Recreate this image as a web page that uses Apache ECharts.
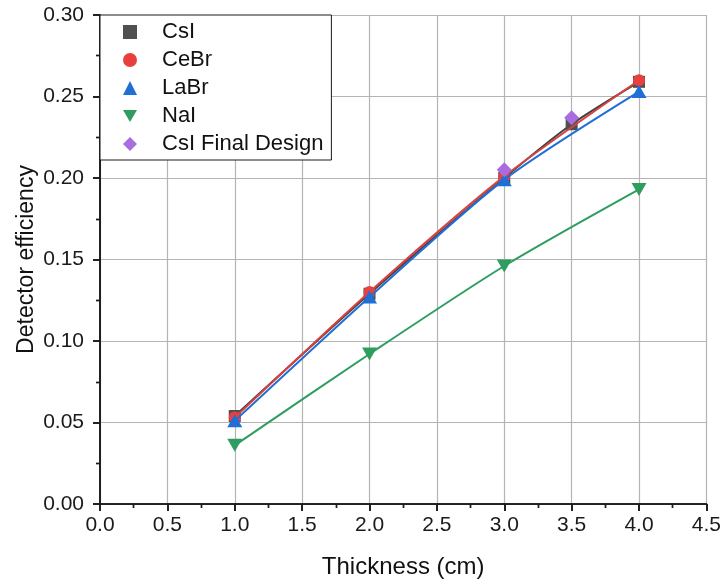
<!DOCTYPE html>
<html>
<head>
<meta charset="utf-8">
<script src="https://cdn.jsdelivr.net/npm/echarts@6/dist/echarts.min.js"></script>
<style>
  html, body { margin: 0; padding: 0; background: #fff; }
  #chart { width: 724px; height: 584px; }
</style>
</head>
<body>
<div id="chart"></div>
<script>
// Detector efficiency versus crystal thickness for several scintillators
const thickness = [1.0, 2.0, 3.0, 4.0];
const thicknessCsI = [1.0, 2.0, 3.0, 3.5, 4.0];
const thicknessFinal = [3.0, 3.5];

const effCsI = [0.054, 0.129, 0.200, 0.233, 0.259];
const effCeBr = [0.053, 0.130, 0.201, 0.260];
const effLaBr = [0.051, 0.127, 0.199, 0.253];
const effNaI = [0.036, 0.092, 0.146, 0.193];
const effFinal = [0.205, 0.237];

const xTicks = [0, 0.5, 1.0, 1.5, 2.0, 2.5, 3.0, 3.5, 4.0, 4.5];
const yTicks = [0, 0.05, 0.10, 0.15, 0.20, 0.25, 0.30];

const FONT = '"Liberation Sans", Arial, sans-serif';
const INV_TRIANGLE = 'path://M0,0 L10,0 L5,8.66 Z';

const pairs = (xs, ys) => xs.map((x, i) => [x, ys[i]]);

const chart = echarts.init(document.getElementById('chart'));

const axisLine = { show: true, lineStyle: { color: '#1a1a1a', width: 1.6 } };
const majorTick = inside => ({ show: true, inside: inside, length: 7, lineStyle: { color: '#1a1a1a', width: 1.6 } });
const minorTick = { show: true, splitNumber: 2, length: 4, lineStyle: { color: '#1a1a1a', width: 1.4 } };
const gridLine = { show: true, lineStyle: { color: '#b4b4b4', width: 1.2 } };

chart.setOption({
  animation: false,
  backgroundColor: '#ffffff',
  textStyle: { fontFamily: FONT },
  grid: { left: 100, right: 17, top: 15, bottom: 79 },
  legend: {
    left: 100,
    top: 15,
    orient: 'vertical',
    backgroundColor: '#ffffff',
    borderColor: '#1a1a1a',
    borderWidth: 1,
    padding: [6, 8, 5, 23],
    itemWidth: 14,
    itemHeight: 14,
    itemGap: 6,
    textStyle: { fontFamily: FONT, fontSize: 22, color: '#111111', lineHeight: 22, padding: [0, 0, 0, 20] },
    data: [
      { name: 'CsI', icon: 'rect', itemStyle: { color: '#505050' } },
      { name: 'CeBr', icon: 'circle' },
      { name: 'LaBr', icon: 'triangle' },
      { name: 'NaI', icon: INV_TRIANGLE },
      { name: 'CsI Final Design', icon: 'diamond' }
    ]
  },
  xAxis: [
    {
      type: 'value',
      min: 0, max: 4.5, interval: 0.5,
      name: 'Thickness (cm)',
      nameLocation: 'middle',
      nameGap: 51,
      nameMoveOverlap: false,
      nameTextStyle: { fontFamily: FONT, fontSize: 24, color: '#111111' },
      axisLine: axisLine,
      axisTick: majorTick(false),
      minorTick: minorTick,
      axisLabel: {
        fontFamily: FONT, fontSize: 21, color: '#1a1a1a', margin: 11,
        formatter: v => xTicks.includes(+v.toFixed(2)) ? v.toFixed(1) : ''
      },
      splitLine: gridLine
    },
    {
      type: 'value', position: 'top',
      min: 0, max: 4.5, interval: 0.5,
      axisLine: axisLine,
      axisTick: majorTick(true),
      minorTick: minorTick,
      axisLabel: { show: false },
      splitLine: { show: false }
    }
  ],
  yAxis: [
    {
      type: 'value',
      min: 0, max: 0.30, interval: 0.05,
      name: 'Detector efficiency',
      nameLocation: 'middle',
      nameGap: 62,
      nameMoveOverlap: false,
      nameTextStyle: { fontFamily: FONT, fontSize: 23, color: '#111111' },
      axisLine: axisLine,
      axisTick: majorTick(false),
      minorTick: minorTick,
      axisLabel: {
        fontFamily: FONT, fontSize: 21, color: '#1a1a1a', margin: 16,
        formatter: v => yTicks.includes(+v.toFixed(2)) ? v.toFixed(2) : ''
      },
      splitLine: gridLine
    },
    {
      type: 'value', position: 'right',
      min: 0, max: 0.30, interval: 0.05,
      axisLine: axisLine,
      axisTick: majorTick(true),
      minorTick: minorTick,
      axisLabel: { show: false },
      splitLine: { show: false }
    }
  ],
  series: [
    {
      name: 'NaI', type: 'line', smooth: 0.25,
      data: pairs(thickness, effNaI),
      symbol: INV_TRIANGLE, symbolSize: [15, 13],
      itemStyle: { color: '#2f9d5f' },
      lineStyle: { color: '#2f9d5f', width: 2 },
      z: 2
    },
    {
      name: 'CsI', type: 'line', smooth: 0.25,
      data: pairs(thicknessCsI, effCsI),
      symbol: 'rect', symbolSize: 12,
      itemStyle: { color: '#505050' },
      lineStyle: { color: '#404040', width: 2 },
      z: 2
    },
    {
      name: 'CeBr', type: 'line', smooth: 0.25,
      data: pairs(thickness, effCeBr),
      symbol: 'circle', symbolSize: 12,
      itemStyle: { color: '#e8403e' },
      lineStyle: { color: '#d9413f', width: 2 },
      z: 3
    },
    {
      name: 'LaBr', type: 'line', smooth: 0.25,
      data: pairs(thickness, effLaBr),
      symbol: 'triangle', symbolSize: [15, 13],
      itemStyle: { color: '#1f6fd6' },
      lineStyle: { color: '#1f6fd6', width: 2 },
      z: 4
    },
    {
      name: 'CsI Final Design', type: 'line',
      data: pairs(thicknessFinal, effFinal),
      symbol: 'diamond', symbolSize: 15,
      itemStyle: { color: '#a86ee0' },
      lineStyle: { width: 0, opacity: 0 },
      z: 5
    }
  ]
});
</script>
</body>
</html>
